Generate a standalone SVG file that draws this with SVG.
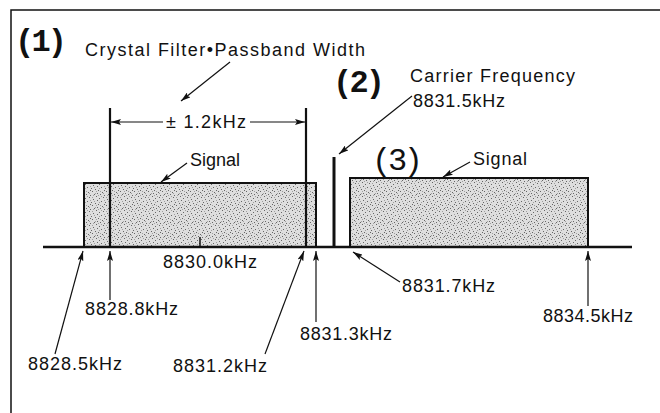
<svg xmlns="http://www.w3.org/2000/svg" width="660" height="413" viewBox="0 0 660 413">
<style>
text{font-family:"Liberation Sans",Arial,sans-serif;fill:#111;font-size:18px}
.big{font-family:"Liberation Mono","DejaVu Sans Mono",monospace;font-size:32px;font-weight:bold}
.big3{font-family:"Liberation Mono","DejaVu Sans Mono",monospace;font-size:32px}
.frame{stroke:#111;stroke-width:1.5;fill:none}
.edge{stroke:#111;stroke-width:2.2;fill:none}
.band{stroke:#111;stroke-width:2;fill:url(#stip)}
.arr{stroke:#111;stroke-width:1.2;fill:none;marker-end:url(#ah)}
</style>
<defs>
<pattern id="stip" width="14" height="14" patternUnits="userSpaceOnUse">
<rect width="14" height="14" fill="#dedede"/>
<g fill="#666">
<rect x="1" y="2" width="1" height="1"/><rect x="5" y="1" width="1" height="1"/><rect x="9" y="3" width="1" height="1"/><rect x="12" y="0" width="1" height="1"/>
<rect x="3" y="5" width="1" height="1"/><rect x="7" y="6" width="1" height="1"/><rect x="11" y="7" width="1" height="1"/><rect x="0" y="8" width="1" height="1"/>
<rect x="4" y="10" width="1" height="1"/><rect x="8" y="9" width="1" height="1"/><rect x="13" y="11" width="1" height="1"/><rect x="2" y="12" width="1" height="1"/>
<rect x="6" y="13" width="1" height="1"/><rect x="10" y="12" width="1" height="1"/><rect x="13" y="4" width="1" height="1"/><rect x="6" y="8" width="1" height="1"/>
</g>
<g fill="#a0a0a0">
<rect x="3" y="0" width="1" height="1"/><rect x="10" y="5" width="1" height="1"/><rect x="1" y="6" width="1" height="1"/><rect x="6" y="4" width="1" height="1"/>
<rect x="12" y="9" width="1" height="1"/><rect x="5" y="11" width="1" height="1"/><rect x="9" y="13" width="1" height="1"/><rect x="0" y="13" width="1" height="1"/>
<rect x="8" y="1" width="1" height="1"/><rect x="2" y="9" width="1" height="1"/><rect x="11" y="11" width="1" height="1"/>
</g>
</pattern>
<marker id="ah" viewBox="0 0 10 6" refX="10" refY="3" markerWidth="10" markerHeight="6" markerUnits="userSpaceOnUse" orient="auto">
<path d="M0,0 L10,3 L0,6 L2,3 Z" fill="#111"/>
</marker>
</defs>

<g id="frame">
<path class="frame" d="M660,10 H11 V413"/>
</g>

<g id="signal-left">
<rect class="band" x="84" y="183" width="232" height="64"/>
</g>
<g id="signal-right">
<rect class="band" x="350" y="178" width="238" height="69"/>
</g>
<g id="filter-lines">
<line class="edge" x1="110" y1="108" x2="110" y2="247"/>
<line class="edge" x1="306" y1="108" x2="306" y2="247"/>
</g>
<g id="carrier">
<line stroke="#111" stroke-width="3" x1="334" y1="157" x2="334" y2="247"/>
</g>
<g id="baseline">
<line stroke="#111" stroke-width="2.5" x1="43" y1="247" x2="632" y2="247"/>
<line stroke="#111" stroke-width="1.5" x1="200" y1="237" x2="200" y2="247"/>
</g>

<g id="connectors">
<line class="arr" x1="163" y1="122" x2="111" y2="122"/>
<line class="arr" x1="250" y1="122" x2="305" y2="122"/>
<line class="arr" x1="230" y1="62" x2="181" y2="101"/>
<line class="arr" x1="187" y1="163" x2="161" y2="182"/>
<line class="arr" x1="412" y1="96" x2="339" y2="154"/>
<line class="arr" x1="470" y1="162" x2="443" y2="177"/>
<line class="arr" x1="55" y1="354" x2="83" y2="251"/>
<line class="arr" x1="110" y1="300" x2="110" y2="251"/>
<line class="arr" x1="265" y1="354" x2="304" y2="251"/>
<line class="arr" x1="316" y1="322" x2="316" y2="251"/>
<line class="arr" x1="400" y1="282" x2="353" y2="252"/>
<line class="arr" x1="588" y1="306" x2="588" y2="251"/>
</g>

<g id="labels">
<text class="big" x="15" y="51" textLength="52">(1)</text>
<text x="85" y="56" textLength="280" lengthAdjust="spacing">Crystal Filter•Passband Width</text>
<text x="166" y="128" textLength="80" lengthAdjust="spacing">± 1.2kHz</text>
<text x="190" y="166" textLength="50" lengthAdjust="spacing">Signal</text>
<text class="big" x="333" y="92" textLength="52">(2)</text>
<text x="410" y="82" textLength="165" lengthAdjust="spacing">Carrier Frequency</text>
<text x="413" y="107" textLength="92" lengthAdjust="spacing">8831.5kHz</text>
<text class="big3" x="372" y="170" textLength="51">(3)</text>
<text x="473" y="165" textLength="54" lengthAdjust="spacing">Signal</text>
<text x="163" y="268" textLength="94" lengthAdjust="spacing">8830.0kHz</text>
<text x="85" y="315" textLength="93" lengthAdjust="spacing">8828.8kHz</text>
<text x="28" y="370" textLength="94" lengthAdjust="spacing">8828.5kHz</text>
<text x="173" y="372" textLength="94" lengthAdjust="spacing">8831.2kHz</text>
<text x="300" y="340" textLength="92" lengthAdjust="spacing">8831.3kHz</text>
<text x="402" y="292" textLength="93" lengthAdjust="spacing">8831.7kHz</text>
<text x="543" y="322" textLength="90" lengthAdjust="spacing">8834.5kHz</text>
</g>
</svg>
